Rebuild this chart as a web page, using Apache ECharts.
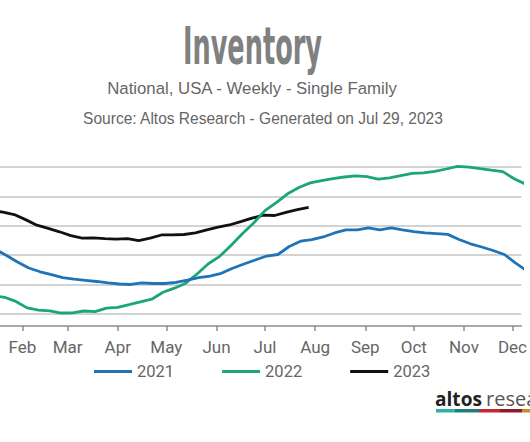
<!DOCTYPE html>
<html><head><meta charset="utf-8">
<script src="https://cdn.jsdelivr.net/npm/echarts@6/dist/echarts.min.js"></script>
<style>html,body{margin:0;padding:0;background:#fff}#c{width:530px;height:442px}</style>
</head><body><div id="c"></div>
<script>
// ---- data ----
const monthLabels = ['Feb','Mar','Apr','May','Jun','Jul','Aug','Sep','Oct','Nov','Dec'];
const monthStartDays = [31,59,90,120,151,181,212,243,273,304,334]; // day-of-year of the 1st of each month
const seriesNames = ['2021','2022','2023'];
const firstWeek2021 = '2021-01-15';
const firstWeek2022 = '2022-01-14';
const firstWeek2023 = '2023-01-13';
// weekly single-family inventory (thousands)
const inventory2021 = [360.5,349.8,338.4,328.2,321.8,316.8,311.9,309.2,307.3,305.3,303.1,301,300.2,303.1,301.9,301.9,303.9,307.8,311.9,314.6,319.2,327.7,335,341.8,348.6,351.2,364.8,373.8,376.4,381,387.8,392.9,392.9,396.6,393.2,396.3,392.9,390.1,387.8,386.6,385.4,376.7,369.4,363.9,358,351.2,336.7,323.1];
const inventory2022 = [281.5,278.4,271.4,260.4,256.6,255.4,251.7,252,255.1,253.9,259.9,261.4,265.8,270.7,275.2,286.9,293.9,302.4,318,335.4,348.1,366.5,386.6,404.8,425.9,439.3,454.4,465,473,476.7,480.3,483,485,483.5,479.3,481.6,485.5,489.3,490,492.7,496.6,501,499.7,497.1,494.6,492.2,480.1,471.1];
const inventory2023 = [426,423.1,419.2,410.5,401,395.7,389.8,383.2,379.1,379.6,378.2,377.2,378.1,374.8,378.9,384.4,384.4,385.2,387.9,392.9,397.6,401.4,407.1,412.9,418,417.5,422.8,427.6,431.5];
const yTicks = [250,300,350,400,450,500];

// ---- helpers ----
function dayOfYear(iso){
  const d = new Date(iso + 'T00:00:00Z');
  return Math.round((d - Date.UTC(d.getUTCFullYear(),0,1)) / 86400000);
}
function weekly(startIso, values){
  const d0 = dayOfYear(startIso);
  return values.map((v,i)=>[d0 + 7*i, v]);
}
const cv = document.createElement('canvas').getContext('2d');
function fitScale(text, font, target){
  cv.font = font; const w = cv.measureText(text).width; return w ? target / w : 1;
}

const titleFamily = "'Liberation Sans Narrow','DejaVu Sans Condensed','Roboto Condensed',sans-serif";
const subFamily = "'Liberation Sans',Arial,sans-serif";
const axisFamily = "Roboto,'Liberation Sans',sans-serif";

const titleText = 'Inventory';
const sub1 = 'National, USA - Weekly - Single Family';
const sub2 = 'Source: Altos Research - Generated on Jul 29, 2023';
const titleFont = "bold 52px " + titleFamily;
const subFont = "17px " + subFamily;

const colors = ['#1f74b8','#1ba57a','#111111'];

const chart = echarts.init(document.getElementById('c'), null, {renderer:'svg'});
chart.setOption({
  animation:false,
  backgroundColor:'#fff',
  grid:{left:0,right:0,top:167,bottom:128,containLabel:false},
  xAxis:{
    type:'value', min:17.2, max:339.5, offset:12,
    axisLine:{show:true,lineStyle:{color:'#8c8c8c',width:1.5}},
    axisTick:{show:true,length:5,lineStyle:{color:'#8c8c8c',width:1.5},customValues:monthStartDays},
    axisLabel:{customValues:monthStartDays,margin:12,fontFamily:axisFamily,fontSize:17,color:'#666',
      formatter:(v)=>monthLabels[monthStartDays.indexOf(Math.round(v))] || ''},
    splitLine:{show:false}
  },
  yAxis:{
    type:'value', min:yTicks[0], max:yTicks[yTicks.length-1], interval:yTicks[1]-yTicks[0],
    axisLine:{show:false}, axisTick:{show:false}, axisLabel:{show:false},
    splitLine:{show:true,lineStyle:{color:'#c4c4c4',width:1.6}}
  },
  legend:{
    data:seriesNames, left:94, top:363, padding:0, icon:'rect', itemWidth:38, itemHeight:3, itemGap:48,
    textStyle:{fontFamily:axisFamily,fontSize:16.5,color:'#666'}
  },
  series:[
    {name:seriesNames[0],type:'line',data:weekly(firstWeek2021,inventory2021)},
    {name:seriesNames[1],type:'line',data:weekly(firstWeek2022,inventory2022)},
    {name:seriesNames[2],type:'line',data:weekly(firstWeek2023,inventory2023)}
  ].map((s,i)=>Object.assign(s,{showSymbol:false,symbol:'none',clip:false,z:3-i+2,
      lineStyle:{color:colors[i],width:2.8},itemStyle:{color:colors[i]}})),
  graphic:[
    {type:'text',x:252.5,y:46,scaleX:fitScale(titleText,titleFont,139),
      style:{text:titleText,font:titleFont,fill:'#808080',align:'center',verticalAlign:'middle',textAlign:'center',textVerticalAlign:'middle'}},
    {type:'text',x:252,y:88,scaleX:fitScale(sub1,subFont,291),
      style:{text:sub1,font:subFont,fill:'#666',align:'center',verticalAlign:'middle',textAlign:'center',textVerticalAlign:'middle'}},
    {type:'text',x:263,y:118,scaleX:fitScale(sub2,subFont,361),
      style:{text:sub2,font:subFont,fill:'#666',align:'center',verticalAlign:'middle',textAlign:'center',textVerticalAlign:'middle'}},
    {type:'text',x:435,y:398,scaleX:fitScale('altos',"bold 20px 'Open Sans',sans-serif",47),
      style:{text:'altos',font:"bold 20px 'Open Sans',sans-serif",fill:'#222',align:'left',verticalAlign:'middle',textAlign:'left',textVerticalAlign:'middle'}},
    {type:'text',x:486,y:398,
      style:{text:'research',font:"20px 'Open Sans',sans-serif",fill:'#555',align:'left',verticalAlign:'middle',textAlign:'left',textVerticalAlign:'middle'}},
    {type:'rect',shape:{x:436,y:409,width:19,height:3.5},style:{fill:'#2bb3a6'}},
    {type:'rect',shape:{x:455,y:409,width:24,height:3.5},style:{fill:'#1f7f78'}},
    {type:'rect',shape:{x:479,y:409,width:21,height:3.5},style:{fill:'#c3283a'}},
    {type:'rect',shape:{x:500,y:409,width:22,height:3.5},style:{fill:'#8e1b2b'}},
    {type:'rect',shape:{x:522,y:409,width:10,height:3.5},style:{fill:'#c98a2c'}}
  ]
});
</script></body></html>
